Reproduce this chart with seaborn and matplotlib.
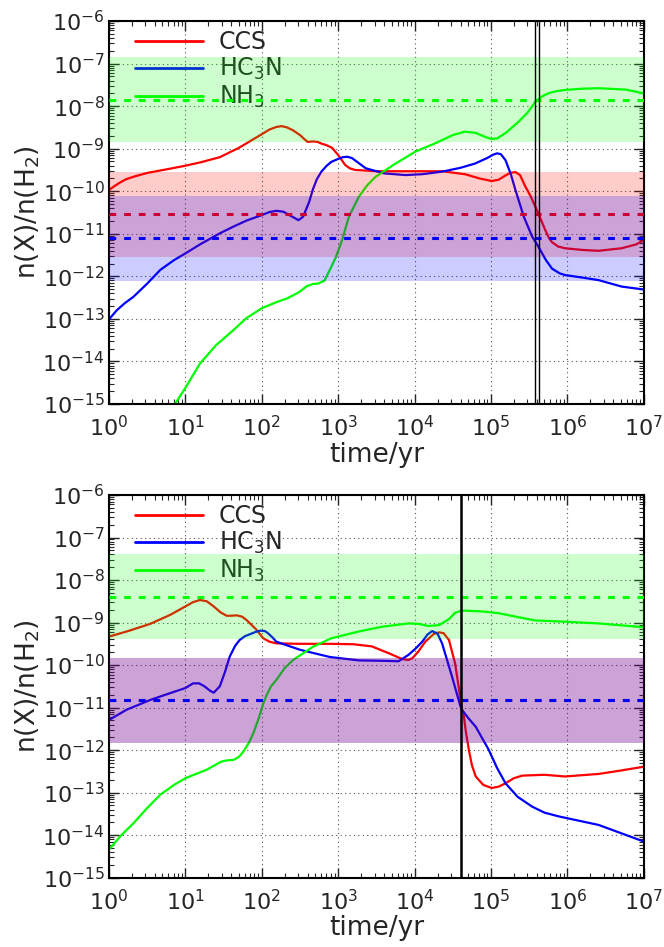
import numpy as np
import pandas as pd
import matplotlib
matplotlib.use("Agg")
import matplotlib.pyplot as plt
import seaborn as sns
from matplotlib.ticker import LogLocator, NullFormatter

# ---------------------------------------------------------------
# Abundances (log10 of n(X)/n(H2)) against log10(time / yr)
# ---------------------------------------------------------------

# Upper model
top_ccs_logt = [0.0, 0.07, 0.14, 0.22, 0.32, 0.5, 0.8, 1.0, 1.2, 1.45, 1.7, 1.85, 2.0, 2.1,
                2.19, 2.26, 2.33, 2.41, 2.5, 2.56, 2.6, 2.67, 2.73, 2.78, 2.85, 2.92, 3.0,
                3.09, 3.15, 3.22, 3.5, 4.0, 4.36, 4.66, 4.85, 5.01, 5.1, 5.18, 5.25, 5.32,
                5.38, 5.45, 5.52, 5.58, 5.65, 5.71, 5.76, 5.8, 5.88, 5.97, 6.2, 6.41, 6.71,
                6.9, 7.0]
top_ccs_logx = [-9.97, -9.88, -9.80, -9.72, -9.66, -9.57, -9.47, -9.40, -9.32, -9.20, -8.98,
                -8.82, -8.66, -8.55, -8.49, -8.47, -8.50, -8.57, -8.68, -8.78, -8.84, -8.83,
                -8.84, -8.88, -8.92, -8.98, -9.15, -9.38, -9.46, -9.50, -9.53, -9.53, -9.53,
                -9.60, -9.70, -9.76, -9.73, -9.64, -9.57, -9.55, -9.62, -9.89, -10.12,
                -10.36, -10.65, -10.91, -11.10, -11.20, -11.30, -11.34, -11.38, -11.40,
                -11.34, -11.25, -11.15]

top_hc3n_logt = [0.0, 0.1, 0.2, 0.32, 0.5, 0.67, 0.85, 1.0, 1.2, 1.45, 1.63, 1.8, 2.0,
                 2.1, 2.19, 2.28, 2.38, 2.48, 2.54, 2.62, 2.67, 2.72, 2.78, 2.85, 2.91, 3.0,
                 3.06, 3.12, 3.18, 3.24, 3.36, 3.6, 3.88, 4.1, 4.36, 4.6, 4.79, 4.95, 5.03,
                 5.08, 5.13, 5.19, 5.26, 5.32, 5.43, 5.54, 5.62, 5.72, 5.80, 5.9, 5.97, 6.2,
                 6.41, 6.71, 7.0]
top_hc3n_logx = [-13.01, -12.80, -12.64, -12.48, -12.17, -11.85, -11.62, -11.46, -11.24,
                 -10.99, -10.83, -10.69, -10.56, -10.49, -10.46, -10.48, -10.58, -10.68,
                 -10.60, -10.25, -9.95, -9.72, -9.54, -9.40, -9.31, -9.24, -9.20, -9.19,
                 -9.22, -9.30, -9.46, -9.58, -9.62, -9.60, -9.54, -9.45, -9.35, -9.22,
                 -9.14, -9.11, -9.13, -9.27, -9.60, -9.97, -10.60, -11.07, -11.30, -11.62,
                 -11.82, -11.93, -11.97, -12.03, -12.09, -12.24, -12.31]

top_nh3_logt = [0.864, 1.0, 1.19, 1.4, 1.63, 1.8, 2.0, 2.2, 2.33, 2.48, 2.59, 2.67, 2.74,
                2.82, 2.89, 2.97, 3.05, 3.14, 3.27, 3.38, 3.49, 3.75, 4.01, 4.3, 4.5, 4.66,
                4.8, 4.92, 5.0, 5.08, 5.2, 5.36, 5.48, 5.58, 5.66, 5.75, 5.85, 5.97, 6.2,
                6.41, 6.76, 7.0]
top_nh3_logx = [-15.0, -14.62, -14.05, -13.62, -13.26, -12.98, -12.75, -12.60, -12.52,
                -12.38, -12.23, -12.18, -12.17, -12.10, -11.85, -11.55, -11.15, -10.60,
                -10.13, -9.86, -9.66, -9.35, -9.07, -8.85, -8.68, -8.60, -8.63, -8.72,
                -8.77, -8.76, -8.62, -8.37, -8.15, -7.90, -7.78, -7.70, -7.65, -7.62,
                -7.59, -7.58, -7.61, -7.70]

# Lower model
bot_ccs_logt = [0.0, 0.25, 0.54, 0.8, 1.0, 1.1, 1.19, 1.28, 1.37, 1.46, 1.54, 1.6, 1.67,
                1.74, 1.80, 1.92, 2.02, 2.1, 2.19, 2.5, 2.89, 3.2, 3.44, 3.66, 3.84, 3.92,
                3.97, 4.05, 4.14, 4.25, 4.32, 4.38, 4.45, 4.53, 4.58, 4.62, 4.64, 4.67,
                4.71, 4.75, 4.80, 4.9, 5.01, 5.1, 5.19, 5.3, 5.41, 5.7, 5.97, 6.41, 6.7,
                7.0]
bot_ccs_logx = [-9.33, -9.20, -9.03, -8.82, -8.62, -8.52, -8.47, -8.50, -8.62, -8.76,
                -8.84, -8.84, -8.83, -8.86, -8.94, -9.15, -9.37, -9.45, -9.49, -9.50, -9.50,
                -9.51, -9.56, -9.72, -9.86, -9.88, -9.84, -9.68, -9.45, -9.27, -9.23, -9.25,
                -9.41, -9.96, -10.55, -11.05, -11.13, -11.55, -11.99, -12.35, -12.62,
                -12.82, -12.89, -12.86, -12.78, -12.66, -12.60, -12.58, -12.62, -12.56,
                -12.48, -12.39]

bot_hc3n_logt = [0.0, 0.23, 0.54, 0.8, 1.0, 1.10, 1.18, 1.25, 1.32, 1.37, 1.45, 1.52,
                 1.58, 1.65, 1.71, 1.78, 1.85, 1.92, 1.98, 2.04, 2.08, 2.14, 2.19, 2.5,
                 2.89, 3.27, 3.6, 3.79, 3.92, 4.02, 4.10, 4.17, 4.23, 4.3, 4.36, 4.49, 4.60,
                 4.62, 4.70, 4.80, 4.97, 5.08, 5.19, 5.35, 5.54, 5.7, 5.89, 6.41, 7.0]
bot_hc3n_logx = [-11.29, -11.05, -10.82, -10.66, -10.54, -10.43, -10.43, -10.50, -10.60,
                 -10.65, -10.50, -10.15, -9.80, -9.55, -9.41, -9.32, -9.27, -9.22, -9.19,
                 -9.20, -9.25, -9.35, -9.45, -9.64, -9.81, -9.89, -9.90, -9.91, -9.76,
                 -9.60, -9.45, -9.28, -9.20, -9.26, -9.49, -10.27, -10.97, -11.05, -11.24,
                 -11.45, -11.99, -12.42, -12.78, -13.10, -13.33, -13.47, -13.56, -13.76,
                 -14.15]

bot_nh3_logt = [0.0, 0.15, 0.32, 0.5, 0.67, 0.85, 1.0, 1.28, 1.47, 1.55, 1.63, 1.7, 1.76,
                1.83, 1.89, 1.96, 2.02, 2.06, 2.12, 2.19, 2.3, 2.41, 2.67, 2.91, 3.27, 3.57,
                3.92, 4.05, 4.18, 4.32, 4.45, 4.53, 4.6, 4.66, 4.9, 5.10, 5.32, 5.58, 5.97,
                6.41, 7.0]
bot_nh3_logx = [-14.34, -14.02, -13.72, -13.36, -13.05, -12.82, -12.66, -12.46, -12.27,
                -12.24, -12.23, -12.16, -12.03, -11.83, -11.60, -11.25, -10.90, -10.72,
                -10.50, -10.35, -10.07, -9.88, -9.57, -9.37, -9.21, -9.10, -9.02, -9.03,
                -9.08, -9.06, -8.92, -8.77, -8.73, -8.72, -8.74, -8.78, -8.86, -8.95,
                -8.98, -9.02, -9.11]

# Observed abundances (centre of each band, band spans one dex either side)
species = ["CCS", "HC$_3$N", "NH$_3$"]
colors = ["#ff0000", "#0000ff", "#00ff00"]
top_obs = [2.9e-11, 7.8e-12, 1.4e-8]
bot_obs = [1.5e-11, 1.5e-11, 4.1e-9]

# Times marked with vertical lines
top_marks = [3.8e5, 4.3e5]
bot_marks = [4.1e4]

sns.set_style("ticks")
plt.rcParams.update({
    "font.family": ["DejaVu Sans"],
    "font.size": 14,
    "axes.linewidth": 1.5,
    "axes.edgecolor": "black",
    "xtick.direction": "in",
    "ytick.direction": "in",
    "xtick.top": True,
    "ytick.right": True,
    "xtick.major.size": 7,
    "ytick.major.size": 7,
    "xtick.minor.size": 3.5,
    "ytick.minor.size": 3.5,
    "xtick.major.width": 1.0,
    "ytick.major.width": 1.0,
    "xtick.minor.width": 0.8,
    "ytick.minor.width": 0.8,
    "xtick.labelsize": 16,
    "ytick.labelsize": 16,
    "xtick.major.pad": 8,
    "ytick.major.pad": 3,
    "axes.labelsize": 19,
})

fig = plt.figure(figsize=(6.64, 9.47), dpi=100)
ax_top = fig.add_axes([0.1642, 0.5734, 0.8053, 0.4044])
ax_bot = fig.add_axes([0.1642, 0.0732, 0.8053, 0.4041])


def make_frame(logt, logx, name):
    return pd.DataFrame({"time": np.power(10.0, logt),
                         "abund": np.power(10.0, logx),
                         "species": name})


def draw_panel(ax, curves, obs, marks, mark_lw):
    ax.set_xscale("log")
    ax.set_yscale("log")
    for (logt, logx), name, col in zip(curves, species, colors):
        df = make_frame(logt, logx, name)
        sns.lineplot(data=df, x="time", y="abund", ax=ax, color=col, lw=1.6,
                     sort=False, estimator=None, label=name, zorder=2)
    # observational bands and their central values, drawn over the models
    for val, col in zip(obs, colors):
        ax.axhspan(val / 10.0, val * 10.0, color=col, alpha=0.2, lw=0, zorder=3)
        ax.axhline(val, color=col, lw=2.2, dashes=(2.2, 2.6), zorder=3)
    for m in marks:
        ax.axvline(m, color="black", lw=mark_lw, zorder=5)

    ax.set_xlim(1, 1e7)
    ax.set_ylim(1e-15, 1e-6)
    ax.xaxis.set_major_locator(LogLocator(base=10, numticks=20))
    ax.yaxis.set_major_locator(LogLocator(base=10, numticks=20))
    ax.xaxis.set_minor_locator(LogLocator(base=10, subs=np.arange(2, 10), numticks=100))
    ax.yaxis.set_minor_locator(LogLocator(base=10, subs=np.arange(2, 10), numticks=100))
    ax.xaxis.set_minor_formatter(NullFormatter())
    ax.yaxis.set_minor_formatter(NullFormatter())
    ax.tick_params(which="both", top=True, right=True, direction="in")
    ax.grid(True, which="major", color="#555555", ls=(0, (1, 3)), lw=0.8)
    ax.set_xlabel("time/yr", labelpad=1)
    ax.set_ylabel("n(X)/n(H$_2$)", labelpad=0)
    leg = ax.legend(loc="upper left", bbox_to_anchor=(0.035, 0.995), frameon=False,
                    fontsize=17, handlelength=2.9, handletextpad=0.65,
                    labelspacing=0.08, borderaxespad=0.0, borderpad=0.3)
    for line in leg.get_lines():
        line.set_linewidth(2.0)
    leg.set_zorder(2.5)


draw_panel(ax_top,
           [(top_ccs_logt, top_ccs_logx), (top_hc3n_logt, top_hc3n_logx),
            (top_nh3_logt, top_nh3_logx)],
           top_obs, top_marks, 1.0)
draw_panel(ax_bot,
           [(bot_ccs_logt, bot_ccs_logx), (bot_hc3n_logt, bot_hc3n_logx),
            (bot_nh3_logt, bot_nh3_logx)],
           bot_obs, bot_marks, 1.8)

fig.savefig("out.png", dpi=100)
